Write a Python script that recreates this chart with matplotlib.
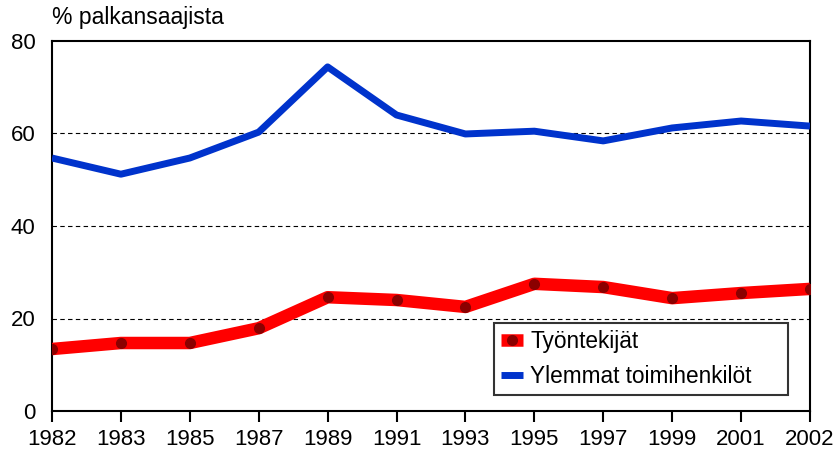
import matplotlib.pyplot as plt

years = ["1982", "1983", "1985", "1987", "1989", "1991", "1993", "1995", "1997", "1999", "2001", "2002"]
tyontekijat = [13.4, 14.7, 14.7, 17.9, 24.6, 24.0, 22.5, 27.5, 26.8, 24.4, 25.5, 26.4]
ylemmat = [54.7, 51.2, 54.7, 60.3, 74.4, 64.0, 59.9, 60.5, 58.4, 61.2, 62.7, 61.6]

plt.rcParams["font.family"] = ["Liberation Sans", "DejaVu Sans"]

fig = plt.figure(figsize=(8.37, 4.55), dpi=100)
ax = fig.add_axes([0.0621, 0.0967, 0.9056, 0.8132])
x = list(range(len(years)))

ax.plot(x, tyontekijat, color="#ff0000", lw=9, solid_capstyle="butt",
        marker="o", markersize=7, markerfacecolor="#8b0000", markeredgecolor="#8b0000",
        label="Työntekijät", zorder=3)
ax.plot(x, ylemmat, color="#0033cc", lw=5, solid_capstyle="butt",
        label="Ylemmat toimihenkilöt", zorder=3)

ax.set_xlim(0, len(years) - 1)
ax.set_ylim(0, 80)
ax.set_xticks(x)
ax.set_xticklabels(years, fontsize=16)
ax.set_yticks([0, 20, 40, 60, 80])
ax.set_yticklabels(["0", "20", "40", "60", "80"], fontsize=16)
ax.tick_params(axis="x", direction="out", length=8, width=1.5, pad=5)
ax.tick_params(axis="y", length=0, pad=12)
for s in ax.spines.values():
    s.set_linewidth(1.5)
for yv in [20, 40, 60]:
    ax.axhline(yv, color="black", lw=0.8, ls=(0, (4, 3)), zorder=1)

fig.text(0.062, 0.937, "% palkansaajista", fontsize=16.5, ha="left", va="bottom")

leg = ax.legend(loc="lower left", bbox_to_anchor=(0.583, 0.043, 0.388, 0.195), mode="expand",
                borderaxespad=0, fontsize=16.3, frameon=True, fancybox=False,
                edgecolor="black", handlelength=1.0, handletextpad=0.3, borderpad=0.3,
                labelspacing=0.55, markerscale=1)
leg.get_frame().set_linewidth(1.5)

fig.savefig("out.png", dpi=100)
